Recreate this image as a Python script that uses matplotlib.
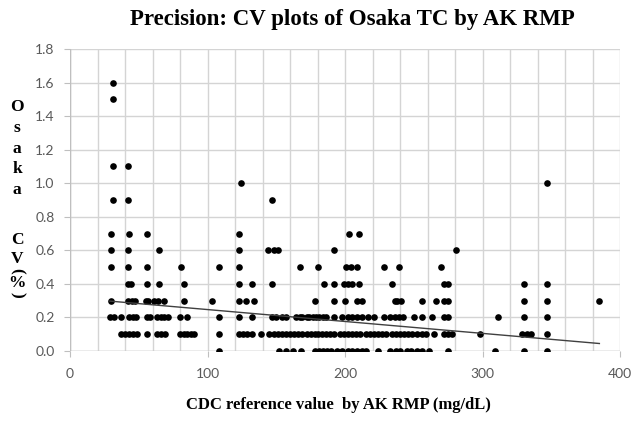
import numpy as np
import matplotlib
matplotlib.use("Agg")
import matplotlib.pyplot as plt
from matplotlib.ticker import MultipleLocator

# CDC reference values (mg/dL) grouped by the Osaka CV (%) they were plotted at
cv_levels = [0.0, 0.1, 0.2, 0.3, 0.4, 0.5, 0.6, 0.7, 0.9, 1.0, 1.1, 1.5, 1.6]

ref_cv00 = [108, 152, 157, 162, 168, 178, 181, 184, 187, 190, 194, 198, 202, 205,
            209, 212, 215, 224, 233, 237, 240, 245, 248, 252, 256, 261, 275, 309,
            330, 347]
ref_cv01 = [37, 40, 43, 46, 49, 56, 63, 66, 69, 80, 83, 85, 88, 90,
            108, 123, 126, 129, 132, 139, 145, 148, 151, 154, 157, 160, 163, 166,
            169, 172, 175, 178, 180, 183, 186, 189, 192, 196, 199, 202, 205, 208,
            211, 215, 218, 221, 224, 227, 230, 234, 237, 240, 243, 246, 249, 252,
            256, 259, 265, 272, 275, 278, 298, 329, 332, 335, 347]
ref_cv02 = [29, 32, 37, 43, 46, 48, 56, 58, 63, 66, 68, 71, 80, 85,
            108, 123, 132, 147, 150, 154, 157, 164, 167, 169, 172, 174, 177, 179,
            181, 184, 186, 192, 198, 202, 205, 209, 212, 217, 221, 228, 233, 236,
            239, 242, 250, 256, 263, 272, 275, 311, 330, 347]
ref_cv03 = [30, 42, 45, 47, 55, 57, 61, 64, 68, 83, 103, 123, 128, 134, 178, 192,
            200, 209, 212, 236, 238, 241, 256, 266, 272, 275, 330, 347, 385]
ref_cv04 = [42, 44, 56, 65, 83, 123, 132, 147, 185, 192, 199, 202, 205, 210, 234,
            272, 275, 330, 347]
ref_cv05 = [30, 42, 56, 81, 108, 123, 167, 180, 201, 204, 209, 228, 239, 270]
ref_cv06 = [30, 42, 65, 123, 144, 148, 151, 192, 281]
ref_cv07 = [30, 43, 56, 123, 203, 210]
ref_cv09 = [31, 42, 147]
ref_cv10 = [124, 347]
ref_cv11 = [31, 42]
ref_cv15 = [31]
ref_cv16 = [31]

# linear trendline as it appears on the chart (CV = slope * ref + intercept)
trend_slope = -0.00071
trend_intercept = 0.318

groups = [ref_cv00, ref_cv01, ref_cv02, ref_cv03, ref_cv04, ref_cv05, ref_cv06,
          ref_cv07, ref_cv09, ref_cv10, ref_cv11, ref_cv15, ref_cv16]

x = np.concatenate([np.array(g, dtype=float) for g in groups])
y = np.concatenate([np.full(len(g), lv) for g, lv in zip(groups, cv_levels)])

W, H = 641, 421
fig = plt.figure(figsize=(W / 100, H / 100), dpi=100)
ax = fig.add_axes([70 / W, 1 - 351 / H, 550 / W, 302 / H])

ax.scatter(x, y, s=23, color="black", zorder=3, linewidths=0)

xs = np.array([x.min(), x.max()])
ax.plot(xs, trend_slope * xs + trend_intercept, color="#404040", lw=1.0, zorder=4)

ax.set_xlim(0, 400)
ax.set_ylim(0, 1.8)
ax.xaxis.set_major_locator(MultipleLocator(100))
ax.xaxis.set_minor_locator(MultipleLocator(20))
ax.yaxis.set_major_locator(MultipleLocator(0.2))
ax.yaxis.set_major_formatter(matplotlib.ticker.FormatStrFormatter("%.1f"))
ax.grid(True, which="both", color="#d4d4d4", lw=1.0)
ax.set_axisbelow(True)
for s in ax.spines.values():
    s.set_visible(False)
ax.axhline(0, color="#bfbfbf", lw=1.0, zorder=1)
ax.axvline(0, color="#bfbfbf", lw=1.0, zorder=1)

ax.tick_params(which="major", length=4, color="#bfbfbf", labelcolor="#595959",
               labelsize=10)
ax.tick_params(which="minor", length=0)
ax.tick_params(axis="x", pad=8)
ax.tick_params(axis="y", pad=7)
for lab in ax.get_xticklabels() + ax.get_yticklabels():
    lab.set_family("Lato")

serif = "Liberation Serif"
fig.text(352 / W, 1 - 19 / H, "Precision: CV plots of Osaka TC by AK RMP",
         ha="center", va="center", family=serif, fontweight="bold", fontsize=16.5)
fig.text(338 / W, 1 - 405 / H, "CDC reference value  by AK RMP (mg/dL)",
         ha="center", va="center", family=serif, fontweight="bold", fontsize=12)

# stacked vertical y label
stack = [("O", 107), ("s", 128), ("a", 149), ("k", 169), ("a", 190),
         ("C", 240), ("V", 259), ("%", 283)]
for ch, py in stack:
    fig.text(17 / W, 1 - py / H, ch, ha="center", va="center", family=serif,
             fontweight="bold", fontsize=12.5)
fig.text(17 / W, 1 - 271 / H, "(", ha="center", va="center", family=serif,
         fontweight="bold", fontsize=12.5, rotation=-90)
fig.text(17 / W, 1 - 295 / H, ")", ha="center", va="center", family=serif,
         fontweight="bold", fontsize=12.5, rotation=-90)

fig.savefig("out.png", dpi=100)
